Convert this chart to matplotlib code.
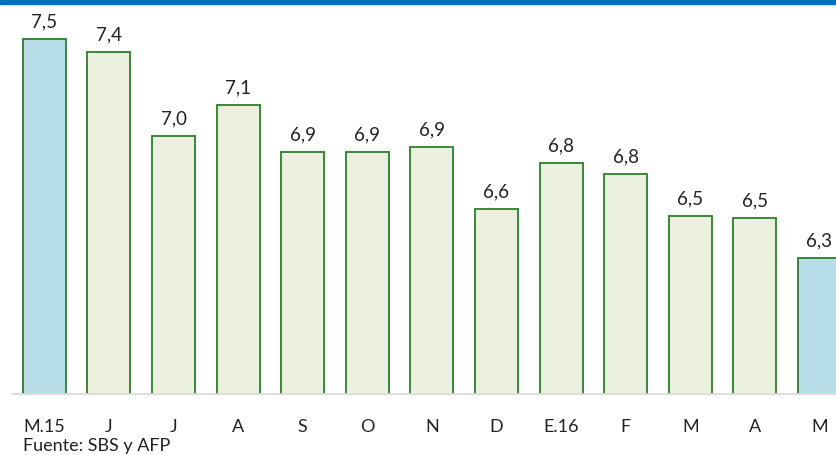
import matplotlib.pyplot as plt
from matplotlib.patches import Rectangle

# Datos
meses = ["M.15", "J", "J", "A", "S", "O", "N", "D", "E.16", "F", "M", "A", "M"]
valores = [7.50, 7.43, 6.97, 7.14, 6.88, 6.88, 6.91, 6.57, 6.82, 6.76, 6.53, 6.52, 6.30]
etiquetas = ["7,5", "7,4", "7,0", "7,1", "6,9", "6,9", "6,9", "6,6", "6,8", "6,8", "6,5", "6,5", "6,3"]
resaltados = [0, 12]

plt.rcParams['font.family'] = ['Lato', 'DejaVu Sans']

fig = plt.figure(figsize=(8.36, 4.56), dpi=100)
W, H = 836, 456

# Barra azul superior
fig.patches.append(Rectangle((0, 1 - 5 / H), 1, 5 / H, transform=fig.transFigure,
                             color='#0070C0', zorder=0))

ax = fig.add_axes([12 / W, 1 - 395 / H, 13 * 64.6 / W, (395 - 8) / H])

colores = ['#B7DDE8' if i in resaltados else '#EBF1DE' for i in range(len(valores))]
x = range(len(valores))
ax.bar(x, valores, width=0.666, color=colores, edgecolor='#2A7F2A', linewidth=1.3)

ymin = 7.5 - 355 / 182.5
ymax = 7.5 + 32 / 182.5
ax.set_ylim(ymin, ymax)
ax.set_xlim(-0.5, len(valores) - 0.5)

for xi, v, t in zip(x, valores, etiquetas):
    ax.text(xi, v + 0.1, t, ha='center', va='center', fontsize=13.5, color='#222222')

ax.set_xticks(list(x))
ax.set_xticklabels(meses, fontsize=13, color='#222222')
ax.tick_params(axis='x', length=0, pad=17)
ax.set_yticks([])
for s in ['top', 'right', 'left']:
    ax.spines[s].set_visible(False)
ax.spines['bottom'].set_color('#D9D9D9')
ax.spines['bottom'].set_linewidth(1.2)

fig.text(23 / W, 1 - 446 / H, "Fuente: SBS y AFP", fontsize=13, color='#222222', va='center')

fig.savefig("out.png", dpi=100)
